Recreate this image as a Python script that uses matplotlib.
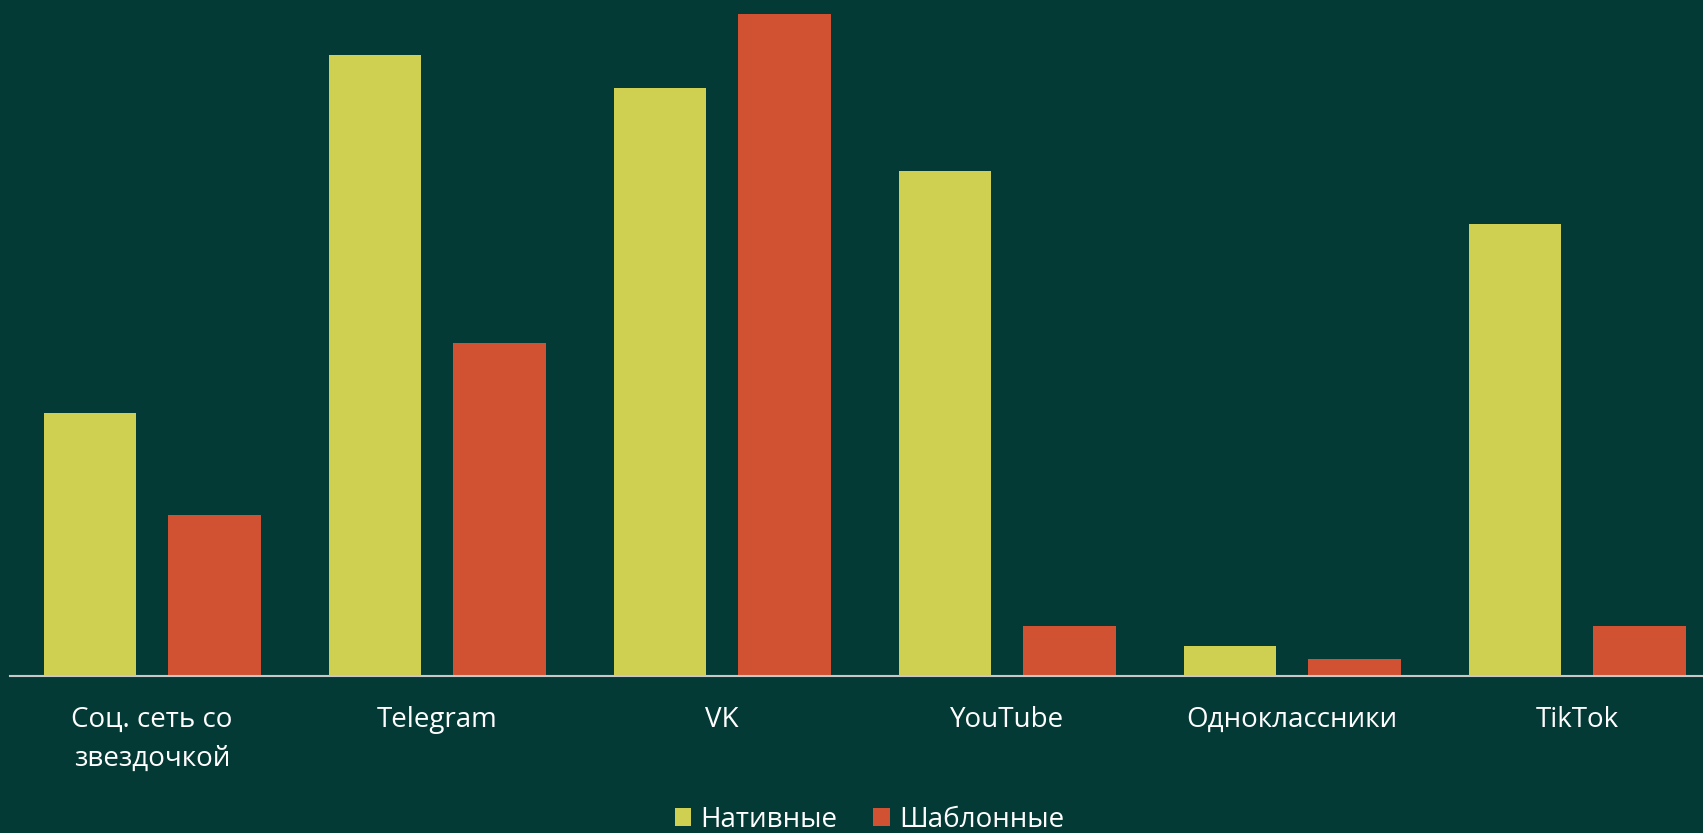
import matplotlib
matplotlib.use("Agg")
import matplotlib.pyplot as plt
import numpy as np

plt.rcParams['font.family'] = ['Open Sans', 'DejaVu Sans']

categories = ["Соц. сеть со\nзвездочкой", "Telegram", "VK", "YouTube", "Одноклассники", "TikTok"]
native = [15.9, 37.5, 35.5, 30.5, 1.8, 27.3]
template = [9.7, 20.1, 40.0, 3.0, 1.0, 3.0]
series_names = ["Нативные", "Шаблонные"]

bg = '#033a35'
c_native = '#cfcf52'
c_template = '#d05232'

W, H = 1703, 833
fig = plt.figure(figsize=(W / 100, H / 100), dpi=100, facecolor=bg)

# plot area runs slightly past the right edge, as in the original
left_px, base_px, pitch_px, top_px = 9.6, 675.5, 285.0, 14.0
ax = fig.add_axes([left_px / W, (H - base_px) / H,
                   6 * pitch_px / W, (base_px - top_px) / H])
ax.set_facecolor(bg)

x = np.arange(len(categories))
width = 0.325
ax.bar(x - 0.218, native, width, color=c_native, label=series_names[0], zorder=2)
ax.bar(x + 0.218, template, width, color=c_template, label=series_names[1], zorder=2)

ax.set_xlim(-0.5, len(categories) - 0.5)
ax.set_ylim(0, 40)

for s in ['top', 'left', 'right']:
    ax.spines[s].set_visible(False)
ax.spines['bottom'].set_color('#c8c8c8')
ax.spines['bottom'].set_linewidth(1.5)
ax.spines['bottom'].set_zorder(3)

ax.set_yticks([])
ax.set_xticks(x)
ax.set_xticklabels(categories, color='white', fontsize=20, linespacing=1.5, va='top')
ax.tick_params(axis='x', length=0, pad=22)

fig.legend(loc='center', bbox_to_anchor=(869.5 / W, (H - 820) / H), ncol=2,
           frameon=False, fontsize=20, labelcolor='white',
           handlelength=0.6, handleheight=0.6, handletextpad=0.32,
           columnspacing=1.3)

fig.savefig('out.png', dpi=100, facecolor=bg)
plt.close(fig)
